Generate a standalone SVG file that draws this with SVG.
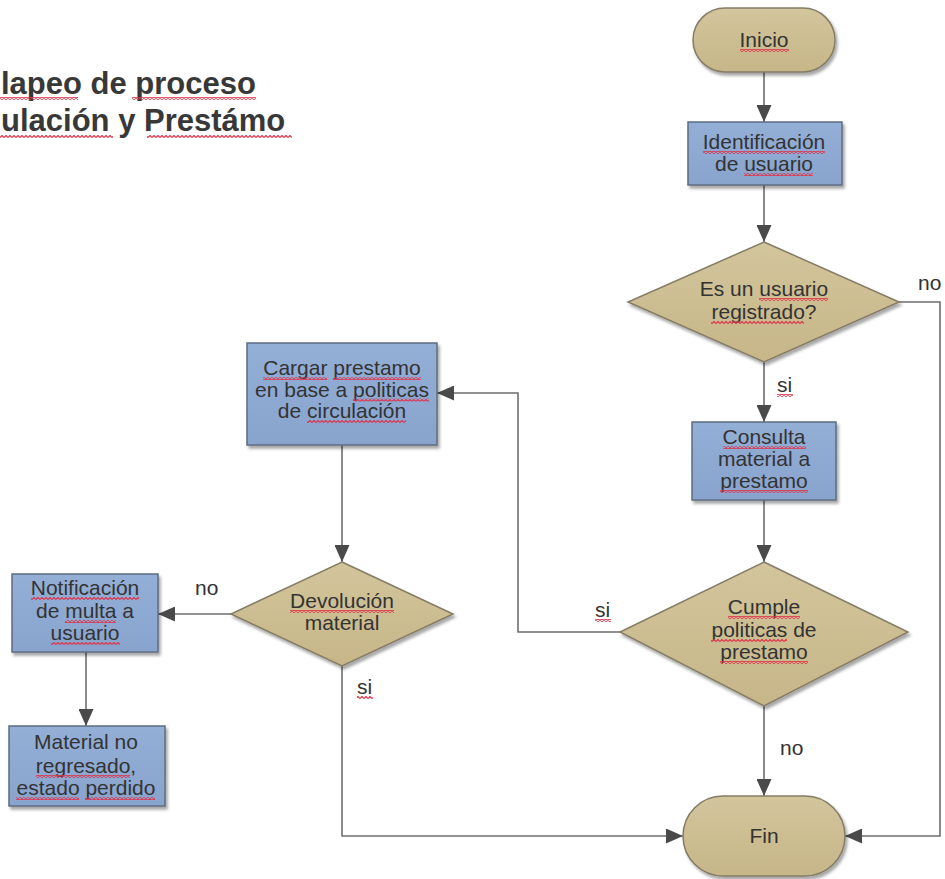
<svg xmlns="http://www.w3.org/2000/svg" width="945" height="879" viewBox="0 0 945 879">
<defs>
<style>
.t{font-family:"Liberation Sans",Arial,sans-serif;font-size:21px;fill:#333;text-anchor:middle}
.l{font-family:"Liberation Sans",Arial,sans-serif;font-size:21px;fill:#333}
.title{font-family:"Liberation Sans",Arial,sans-serif;font-size:31px;font-weight:bold;fill:#383838}
.tan{fill:url(#gTan);stroke:#857c66;stroke-width:1.5}
.blue{fill:url(#gBlue);stroke:#5e6c80;stroke-width:1.5}
.c{fill:none;stroke:#6e6e6e;stroke-width:1.6;marker-end:url(#arr)}
.sq{fill:url(#wave)}
</style>
<linearGradient id="gTan" x1="0" y1="0" x2="0" y2="1"><stop offset="0" stop-color="#d3c59c"/><stop offset="1" stop-color="#c6b688"/></linearGradient>
<linearGradient id="gBlue" x1="0" y1="0" x2="0" y2="1"><stop offset="0" stop-color="#94afd6"/><stop offset="1" stop-color="#88a4cd"/></linearGradient>
<filter id="sh" x="-10%" y="-10%" width="125%" height="130%"><feDropShadow dx="2" dy="3" stdDeviation="1.8" flood-color="#000" flood-opacity="0.35"/></filter>
<marker id="arr" markerUnits="userSpaceOnUse" markerWidth="17" markerHeight="15" refX="17" refY="7.5" orient="auto" viewBox="0 0 17 15"><path d="M0,0 L17,7.5 L0,15 Z" fill="#4a4a4a"/></marker>
<pattern id="wave" patternUnits="userSpaceOnUse" width="4" height="3"><path d="M0,2.5 L2,0.5 L4,2.5" fill="none" stroke="#e0334a" stroke-width="1.2"/></pattern>
</defs>
<rect width="945" height="879" fill="#fff"/>

<g id="title">
<text class="title" x="1" y="94">lapeo de proceso</text>
<text class="title" x="1" y="131">ulación y Prestámo</text>
<rect class="sq" x="0" y="97" width="78" height="3"/>
<rect class="sq" x="132" y="97" width="124" height="3"/>
<rect class="sq" x="0" y="135" width="113" height="3"/>
<rect class="sq" x="147" y="135" width="145" height="3"/>
</g>

<g id="connectors">
<path class="c" d="M764,72 V122"/>
<path class="c" d="M764,185 V242"/>
<path class="c" d="M764,362 V422"/>
<path class="c" d="M764,500 V562"/>
<path class="c" d="M764,706 V796"/>
<path class="c" d="M899,302 H940 V836 H845"/>
<path class="c" d="M620,632 H518 V393 H437"/>
<path class="c" d="M342,445 V562"/>
<path class="c" d="M231,614 H158"/>
<path class="c" d="M86,652 V726"/>
<path class="c" d="M342,666 V836 H683"/>
<text class="l" x="918" y="290">no</text>
<text class="l" x="777" y="392">si</text>
<rect class="sq" x="777" y="394" width="16" height="3"/>
<text class="l" x="595" y="617">si</text>
<rect class="sq" x="595" y="619" width="16" height="3"/>
<text class="l" x="195" y="595">no</text>
<text class="l" x="357" y="694">si</text>
<rect class="sq" x="357" y="696" width="16" height="3"/>
<text class="l" x="780" y="755">no</text>
</g>

<g id="inicio">
<rect class="tan" filter="url(#sh)" x="693" y="8" width="142" height="64" rx="32"/>
<text class="t" x="764" y="47">Inicio</text>
<rect class="sq" x="740" y="49" width="49" height="3"/>
</g>

<g id="identificacion">
<rect class="blue" filter="url(#sh)" x="688" y="122" width="154" height="63"/>
<text class="t" x="764" y="149">Identificación</text>
<text class="t" x="764" y="171">de usuario</text>
<rect class="sq" x="703" y="151" width="122" height="3"/>
<rect class="sq" x="744" y="173" width="69" height="3"/>
</g>

<g id="registrado">
<polygon class="tan" filter="url(#sh)" points="764,242 899,302 764,362 628,302"/>
<text class="t" x="764" y="296">Es un usuario</text>
<text class="t" x="764" y="319">registrado?</text>
<rect class="sq" x="759" y="298" width="69" height="3"/>
<rect class="sq" x="711" y="321" width="93" height="3"/>
</g>

<g id="consulta">
<rect class="blue" filter="url(#sh)" x="692" y="422" width="144" height="78"/>
<text class="t" x="764" y="444">Consulta</text>
<text class="t" x="764" y="466">material a</text>
<text class="t" x="764" y="488">prestamo</text>
<rect class="sq" x="723" y="446" width="83" height="3"/>
<rect class="sq" x="720" y="490" width="88" height="3"/>
</g>

<g id="cumple">
<polygon class="tan" filter="url(#sh)" points="764,562 908,632 764,706 620,632"/>
<text class="t" x="764" y="614">Cumple</text>
<text class="t" x="764" y="637">politicas de</text>
<text class="t" x="764" y="659">prestamo</text>
<rect class="sq" x="728" y="616" width="72" height="3"/>
<rect class="sq" x="711" y="639" width="76" height="3"/>
<rect class="sq" x="720" y="661" width="88" height="3"/>
</g>

<g id="cargar">
<rect class="blue" filter="url(#sh)" x="247" y="343" width="190" height="102"/>
<text class="t" x="342" y="375">Cargar prestamo</text>
<text class="t" x="342" y="396.5">en base a politicas</text>
<text class="t" x="342" y="418">de circulación</text>
<rect class="sq" x="263" y="377" width="64" height="3"/>
<rect class="sq" x="333" y="377" width="88" height="3"/>
<rect class="sq" x="353" y="398.5" width="76" height="3"/>
<rect class="sq" x="307" y="420" width="99" height="3"/>
</g>

<g id="devolucion">
<polygon class="tan" filter="url(#sh)" points="342,562 453,614 342,666 231,614"/>
<text class="t" x="342" y="608">Devolución</text>
<text class="t" x="342" y="630">material</text>
<rect class="sq" x="290" y="610" width="104" height="3"/>
</g>

<g id="notificacion">
<rect class="blue" filter="url(#sh)" x="12" y="574" width="146" height="78"/>
<text class="t" x="85" y="595">Notificación</text>
<text class="t" x="85" y="618">de multa a</text>
<text class="t" x="85" y="640">usuario</text>
<rect class="sq" x="31" y="597" width="108" height="3"/>
<rect class="sq" x="65" y="620" width="51" height="3"/>
<rect class="sq" x="51" y="642" width="69" height="3"/>
</g>

<g id="perdido">
<rect class="blue" filter="url(#sh)" x="9" y="726" width="156" height="80"/>
<text class="t" x="86" y="749">Material no</text>
<text class="t" x="86" y="773">regresado,</text>
<text class="t" x="86" y="795">estado perdido</text>
<rect class="sq" x="36" y="775" width="94" height="3"/>
<rect class="sq" x="16" y="797" width="63" height="3"/>
<rect class="sq" x="85" y="797" width="70" height="3"/>
</g>

<g id="fin">
<rect class="tan" filter="url(#sh)" x="683" y="796" width="162" height="80" rx="40"/>
<text class="t" x="764" y="843">Fin</text>
</g>
</svg>
